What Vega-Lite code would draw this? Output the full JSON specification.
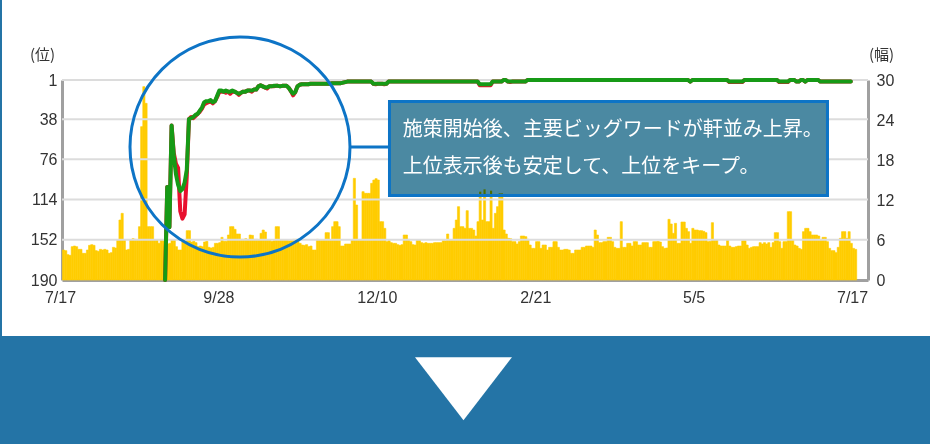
{
"$schema":"https://vega.github.io/schema/vega-lite/v6.json",
"width":806,"height":200,
"autosize":{"type":"none"},
"padding":{"left":62,"top":80,"right":62,"bottom":164},
"background":"#FFFFFF",
"datasets":{
"daily":[
{"date":"2016-07-17","count":4.5},{"date":"2016-07-18","count":4.4},{"date":"2016-07-19","count":3.8},{"date":"2016-07-20","count":3.7},{"date":"2016-07-21","count":5.0},{"date":"2016-07-22","count":5.1},{"date":"2016-07-23","count":5.0},{"date":"2016-07-24","count":4.6},{"date":"2016-07-25","count":4.6},{"date":"2016-07-26","count":4.0},{"date":"2016-07-27","count":4.0},{"date":"2016-07-28","count":4.5},{"date":"2016-07-29","count":5.2},{"date":"2016-07-30","count":5.3},{"date":"2016-07-31","count":5.2},
{"date":"2016-08-01","count":4.4},{"date":"2016-08-02","count":4.3},{"date":"2016-08-03","count":4.6},{"date":"2016-08-04","count":4.5},{"date":"2016-08-05","count":4.6},{"date":"2016-08-06","count":4.5},{"date":"2016-08-07","count":4.0},{"date":"2016-08-08","count":4.1},{"date":"2016-08-09","count":4.9},{"date":"2016-08-10","count":4.8},{"date":"2016-08-11","count":6.0},{"date":"2016-08-12","count":9.0},{"date":"2016-08-13","count":10.0},{"date":"2016-08-14","count":6.0},{"date":"2016-08-15","count":4.5},{"date":"2016-08-16","count":4.6},{"date":"2016-08-17","count":6.0},{"date":"2016-08-18","count":6.2},{"date":"2016-08-19","count":6.1},{"date":"2016-08-20","count":6.0},{"date":"2016-08-21","count":8.0},{"date":"2016-08-22","count":23},{"date":"2016-08-23","count":29},{"date":"2016-08-24","count":26.5},{"date":"2016-08-25","count":8},{"date":"2016-08-26","count":8},{"date":"2016-08-27","count":8},{"date":"2016-08-28","count":6},{"date":"2016-08-29","count":6},{"date":"2016-08-30","count":5.5},{"date":"2016-08-31","count":6},
{"date":"2016-09-01","count":6},{"date":"2016-09-02","count":5.5,"red":190,"green":190},{"date":"2016-09-03","count":5.4,"red":102,"green":102},{"date":"2016-09-04","count":5.5,"red":140,"green":140},{"date":"2016-09-05","count":6,"red":44,"green":44},{"date":"2016-09-06","count":6,"red":70,"green":72},{"date":"2016-09-07","count":5,"red":80,"green":90},{"date":"2016-09-08","count":4.5,"red":84,"green":100},{"date":"2016-09-09","count":4.5,"red":125,"green":106},{"date":"2016-09-10","count":5.7,"red":132,"green":104},{"date":"2016-09-11","count":5.8,"red":128,"green":98},{"date":"2016-09-12","count":7.4,"red":92,"green":86},{"date":"2016-09-13","count":7.4,"red":38,"green":38},{"date":"2016-09-14","count":5.7,"red":36,"green":37},{"date":"2016-09-15","count":5.8,"red":37,"green":36},{"date":"2016-09-16","count":5.6,"red":35,"green":34},{"date":"2016-09-17","count":5.0,"red":33,"green":33},{"date":"2016-09-18","count":5.1,"red":31,"green":30},{"date":"2016-09-19","count":5.0,"red":28,"green":27},{"date":"2016-09-20","count":5.7,"red":24,"green":22},{"date":"2016-09-21","count":5.8,"red":23,"green":21},{"date":"2016-09-22","count":4.9,"red":22,"green":21},{"date":"2016-09-23","count":4.8,"red":21,"green":20},{"date":"2016-09-24","count":4.9,"red":23,"green":22},{"date":"2016-09-25","count":5.5,"red":21,"green":21},{"date":"2016-09-26","count":5.5,"red":17,"green":16},{"date":"2016-09-27","count":5.6,"red":12,"green":11},{"date":"2016-09-28","count":6.4,"red":12,"green":11},{"date":"2016-09-29","count":5.8,"red":12,"green":12},{"date":"2016-09-30","count":5.8,"red":13,"green":11},
{"date":"2016-10-01","count":6.75,"red":12,"green":12},{"date":"2016-10-02","count":8,"red":14,"green":12},{"date":"2016-10-03","count":8,"red":12,"green":11},{"date":"2016-10-04","count":7.6,"red":12,"green":12},{"date":"2016-10-05","count":6.9,"red":13,"green":13},{"date":"2016-10-06","count":6.9,"red":15,"green":14},{"date":"2016-10-07","count":6.1,"red":13,"green":13},{"date":"2016-10-08","count":6.1,"red":12,"green":12},{"date":"2016-10-09","count":6.2,"red":12,"green":12},{"date":"2016-10-10","count":6.0,"red":11,"green":11},{"date":"2016-10-11","count":6.75,"red":11,"green":11},{"date":"2016-10-12","count":6.7,"red":12,"green":11},{"date":"2016-10-13","count":6.1,"red":10,"green":10},{"date":"2016-10-14","count":6.1,"red":10,"green":10},{"date":"2016-10-15","count":6.0,"red":7,"green":7},{"date":"2016-10-16","count":7.0,"red":6,"green":6},{"date":"2016-10-17","count":7.5,"red":7,"green":7},{"date":"2016-10-18","count":7.2,"red":8,"green":8},{"date":"2016-10-19","count":6.0,"red":9,"green":8},{"date":"2016-10-20","count":6.0,"red":7,"green":7},{"date":"2016-10-21","count":5.8,"red":7,"green":7},{"date":"2016-10-22","count":5.9,"red":7,"green":6.5},{"date":"2016-10-23","count":8.0,"red":6.5,"green":6.5},{"date":"2016-10-24","count":8.0,"red":6.5,"green":6.5},{"date":"2016-10-25","count":6.0,"red":7,"green":7},{"date":"2016-10-26","count":6.0,"red":6.5,"green":6.5},{"date":"2016-10-27","count":6.0,"red":6.5,"green":6.5},{"date":"2016-10-28","count":6.0,"red":6.5,"green":6.5},{"date":"2016-10-29","count":5.9,"red":8.5,"green":8.5},{"date":"2016-10-30","count":6.0,"red":11.5,"green":11.5},{"date":"2016-10-31","count":6.1,"red":15.5,"green":14},
{"date":"2016-11-01","count":6.1,"red":12.5,"green":12.5},{"date":"2016-11-02","count":6.1,"red":7,"green":7},{"date":"2016-11-03","count":5.5,"red":5.5,"green":5.5},{"date":"2016-11-04","count":5.25,"red":5,"green":5},{"date":"2016-11-05","count":5.2,"red":5,"green":5},{"date":"2016-11-06","count":5.3,"red":5,"green":5},{"date":"2016-11-07","count":5.0,"red":5,"green":5},{"date":"2016-11-08","count":5.1,"red":4.5,"green":4.5},{"date":"2016-11-09","count":4.5,"red":4.5,"green":4.5},{"date":"2016-11-10","count":4.5,"red":4.5,"green":4.5},{"date":"2016-11-11","count":6.1,"red":4.5,"green":4.5},{"date":"2016-11-12","count":6.0,"red":4.5,"green":4.5},{"date":"2016-11-13","count":6.0,"red":4.5,"green":4.5},{"date":"2016-11-14","count":6.0,"red":4.5,"green":4.5},{"date":"2016-11-15","count":7.1,"red":4.5,"green":4.5},{"date":"2016-11-16","count":7.1,"red":4.5,"green":4.5},{"date":"2016-11-17","count":6.0,"red":4.5,"green":4.5},{"date":"2016-11-18","count":8.0,"red":4,"green":4},{"date":"2016-11-19","count":8.75,"red":4,"green":4},{"date":"2016-11-20","count":8.75,"red":4,"green":4},{"date":"2016-11-21","count":8.0,"red":4,"green":4},{"date":"2016-11-22","count":5.1,"red":4,"green":4},{"date":"2016-11-23","count":5.1,"red":3.5,"green":3.5},{"date":"2016-11-24","count":5.4,"red":3,"green":3},{"date":"2016-11-25","count":5.4,"red":2.5,"green":2.5},{"date":"2016-11-26","count":5.4,"red":2.5,"green":2.5},{"date":"2016-11-27","count":6.0,"red":2.5,"green":2.5},{"date":"2016-11-28","count":15.25,"red":2.5,"green":2.5},{"date":"2016-11-29","count":11.25,"red":2.5,"green":2.5},{"date":"2016-11-30","count":6.0,"red":2.5,"green":2.5},
{"date":"2016-12-01","count":6.0,"red":2.5,"green":2.5},{"date":"2016-12-02","count":13.25,"red":2.5,"green":2.5},{"date":"2016-12-03","count":13.0,"red":2.5,"green":2.5},{"date":"2016-12-04","count":13.0,"red":2.5,"green":2.5},{"date":"2016-12-05","count":13.0,"red":2.5,"green":2.5},{"date":"2016-12-06","count":14.5,"red":2.5,"green":2.5},{"date":"2016-12-07","count":15.0,"red":4.5,"green":4.5},{"date":"2016-12-08","count":15.2,"red":5,"green":4.5},{"date":"2016-12-09","count":15.0,"red":4.5,"green":4.5},{"date":"2016-12-10","count":8.75,"red":4.5,"green":4.5},{"date":"2016-12-11","count":8.75,"red":4.5,"green":4.5},{"date":"2016-12-12","count":7.75,"red":5,"green":4.5},{"date":"2016-12-13","count":5.75,"red":4.5,"green":4.5},{"date":"2016-12-14","count":5.9,"red":2.5,"green":2.5},{"date":"2016-12-15","count":5.6,"red":2.5,"green":2.5},{"date":"2016-12-16","count":5.5,"red":2.5,"green":2.5},{"date":"2016-12-17","count":5.5,"red":2.5,"green":2.5},{"date":"2016-12-18","count":5.3,"red":2.5,"green":2.5},{"date":"2016-12-19","count":5.2,"red":2.5,"green":2.5},{"date":"2016-12-20","count":5.3,"red":2.5,"green":2.5},{"date":"2016-12-21","count":6.75,"red":2.5,"green":2.5},{"date":"2016-12-22","count":6.75,"red":2.5,"green":2.5},{"date":"2016-12-23","count":6.1,"red":2.5,"green":2.5},{"date":"2016-12-24","count":5.75,"red":2.5,"green":2.5},{"date":"2016-12-25","count":5.3,"red":2.5,"green":2.5},{"date":"2016-12-26","count":5.25,"red":2.5,"green":2.5},{"date":"2016-12-27","count":6.0,"red":2.5,"green":2.5},{"date":"2016-12-28","count":6.0,"red":2.5,"green":2.5},{"date":"2016-12-29","count":5.6,"red":2.5,"green":2.5},{"date":"2016-12-30","count":5.5,"red":2.5,"green":2.5},{"date":"2016-12-31","count":5.6,"red":2.5,"green":2.5},
{"date":"2017-01-01","count":5.5,"red":2.5,"green":2.5},{"date":"2017-01-02","count":5.5,"red":2.5,"green":2.5},{"date":"2017-01-03","count":5.5,"red":2.5,"green":2.5},{"date":"2017-01-04","count":5.6,"red":2.5,"green":2.5},{"date":"2017-01-05","count":5.6,"red":2.5,"green":2.5},{"date":"2017-01-06","count":5.6,"red":2.5,"green":2.5},{"date":"2017-01-07","count":5.6,"red":2.5,"green":2.5},{"date":"2017-01-08","count":5.9,"red":2.5,"green":2.5},{"date":"2017-01-09","count":5.9,"red":2.5,"green":2.5},{"date":"2017-01-10","count":6.9,"red":2.5,"green":2.5},{"date":"2017-01-11","count":6.0,"red":2.5,"green":2.5},{"date":"2017-01-12","count":6.0,"red":2.5,"green":2.5},{"date":"2017-01-13","count":7.75,"red":2.5,"green":2.5},{"date":"2017-01-14","count":9.0,"red":2.5,"green":2.5},{"date":"2017-01-15","count":11.0,"red":2.5,"green":2.5},{"date":"2017-01-16","count":8.0,"red":2.5,"green":2.5},{"date":"2017-01-17","count":8.0,"red":2.5,"green":2.5},{"date":"2017-01-18","count":7.75,"red":2.5,"green":2.5},{"date":"2017-01-19","count":10.4,"red":2.5,"green":2.5},{"date":"2017-01-20","count":7.75,"red":2.5,"green":2.5},{"date":"2017-01-21","count":7.75,"red":2.5,"green":2.5},{"date":"2017-01-22","count":7.5,"red":2.5,"green":2.5},{"date":"2017-01-23","count":6.6,"red":2.5,"green":2.5},{"date":"2017-01-24","count":8.75,"red":2.5,"green":2.5},{"date":"2017-01-25","count":13.25,"red":6,"green":5},{"date":"2017-01-26","count":9.0,"red":6,"green":5},{"date":"2017-01-27","count":13.6,"red":6,"green":5},{"date":"2017-01-28","count":8.75,"red":6,"green":5},{"date":"2017-01-29","count":8.75,"red":6,"green":5},{"date":"2017-01-30","count":13.4,"red":6,"green":5},{"date":"2017-01-31","count":7.75,"red":2.5,"green":2.5},
{"date":"2017-02-01","count":10.0,"red":2.5,"green":2.5},{"date":"2017-02-02","count":11.0,"red":2.5,"green":2.5},{"date":"2017-02-03","count":13.0,"red":2.5,"green":2.5},{"date":"2017-02-04","count":13.0,"red":2.5,"green":2.5},{"date":"2017-02-05","count":7.5,"red":1,"green":1},{"date":"2017-02-06","count":6.9,"red":1,"green":1},{"date":"2017-02-07","count":6.25,"red":2.5,"green":2.5},{"date":"2017-02-08","count":6.2,"red":3,"green":2.5},{"date":"2017-02-09","count":5.75,"red":2.5,"green":2.5},{"date":"2017-02-10","count":5.75,"red":2.5,"green":2.5},{"date":"2017-02-11","count":5.4,"red":2.5,"green":2.5},{"date":"2017-02-12","count":5.75,"red":2.5,"green":2.5},{"date":"2017-02-13","count":6.6,"red":2.5,"green":2.5},{"date":"2017-02-14","count":6.6,"red":2.5,"green":2.5},{"date":"2017-02-15","count":6.5,"red":2.5,"green":2.5},{"date":"2017-02-16","count":6.1,"red":1,"green":1},{"date":"2017-02-17","count":5.25,"red":1,"green":1},{"date":"2017-02-18","count":4.75,"red":1,"green":1},{"date":"2017-02-19","count":4.75,"red":1,"green":1},{"date":"2017-02-20","count":5.75,"red":1,"green":1},{"date":"2017-02-21","count":5.75,"red":1,"green":1},{"date":"2017-02-22","count":4.75,"red":1,"green":1},{"date":"2017-02-23","count":5.25,"red":1,"green":1},{"date":"2017-02-24","count":5.25,"red":1,"green":1},{"date":"2017-02-25","count":4.5,"red":1,"green":1},{"date":"2017-02-26","count":4.9,"red":1,"green":1},{"date":"2017-02-27","count":4.9,"red":1,"green":1},{"date":"2017-02-28","count":5.75,"red":1,"green":1},
{"date":"2017-03-01","count":5.75,"red":1,"green":1},{"date":"2017-03-02","count":4.9,"red":1,"green":1},{"date":"2017-03-03","count":4.5,"red":1,"green":1},{"date":"2017-03-04","count":4.5,"red":1,"green":1},{"date":"2017-03-05","count":4.6,"red":1,"green":1},{"date":"2017-03-06","count":4.6,"red":1,"green":1},{"date":"2017-03-07","count":4.5,"red":1,"green":1},{"date":"2017-03-08","count":4.0,"red":1,"green":1},{"date":"2017-03-09","count":4.0,"red":1,"green":1},{"date":"2017-03-10","count":4.5,"red":1,"green":1},{"date":"2017-03-11","count":4.5,"red":1,"green":1},{"date":"2017-03-12","count":4.5,"red":1,"green":1},{"date":"2017-03-13","count":4.9,"red":1,"green":1},{"date":"2017-03-14","count":4.9,"red":1,"green":1},{"date":"2017-03-15","count":5.1,"red":1,"green":1},{"date":"2017-03-16","count":5.1,"red":1,"green":1},{"date":"2017-03-17","count":5.1,"red":1,"green":1},{"date":"2017-03-18","count":4.9,"red":1,"green":1},{"date":"2017-03-19","count":7.5,"red":1,"green":1},{"date":"2017-03-20","count":6.75,"red":1,"green":1},{"date":"2017-03-21","count":5.6,"red":1,"green":1},{"date":"2017-03-22","count":5.6,"red":1,"green":1},{"date":"2017-03-23","count":5.75,"red":1,"green":1},{"date":"2017-03-24","count":5.75,"red":1,"green":1},{"date":"2017-03-25","count":6.4,"red":1,"green":1},{"date":"2017-03-26","count":6.4,"red":1,"green":1},{"date":"2017-03-27","count":5.75,"red":1,"green":1},{"date":"2017-03-28","count":4.9,"red":1,"green":1},{"date":"2017-03-29","count":4.75,"red":1,"green":1},{"date":"2017-03-30","count":4.75,"red":1,"green":1},{"date":"2017-03-31","count":8.75,"red":1,"green":1},
{"date":"2017-04-01","count":4.9,"red":1,"green":1},{"date":"2017-04-02","count":4.9,"red":1,"green":1},{"date":"2017-04-03","count":5.5,"red":1,"green":1},{"date":"2017-04-04","count":5.5,"red":1,"green":1},{"date":"2017-04-05","count":5.1,"red":1,"green":1},{"date":"2017-04-06","count":5.75,"red":1,"green":1},{"date":"2017-04-07","count":5.75,"red":1,"green":1},{"date":"2017-04-08","count":5.25,"red":1,"green":1},{"date":"2017-04-09","count":5.25,"red":1,"green":1},{"date":"2017-04-10","count":5.6,"red":1,"green":1},{"date":"2017-04-11","count":5.6,"red":1,"green":1},{"date":"2017-04-12","count":5.6,"red":1,"green":1},{"date":"2017-04-13","count":4.9,"red":1,"green":1},{"date":"2017-04-14","count":4.9,"red":1,"green":1},{"date":"2017-04-15","count":5.75,"red":1,"green":1},{"date":"2017-04-16","count":5.75,"red":1,"green":1},{"date":"2017-04-17","count":5.8,"red":1,"green":1},{"date":"2017-04-18","count":5.7,"red":1,"green":1},{"date":"2017-04-19","count":5.0,"red":1,"green":1},{"date":"2017-04-20","count":4.75,"red":1,"green":1},{"date":"2017-04-21","count":4.8,"red":1,"green":1},{"date":"2017-04-22","count":9.1,"red":1,"green":1},{"date":"2017-04-23","count":8.4,"red":1,"green":1},{"date":"2017-04-24","count":7.0,"red":1,"green":1},{"date":"2017-04-25","count":8.5,"red":1,"green":1},{"date":"2017-04-26","count":5.5,"red":1,"green":1},{"date":"2017-04-27","count":5.5,"red":1,"green":1},{"date":"2017-04-28","count":8.7,"red":1,"green":1},{"date":"2017-04-29","count":8.7,"red":1,"green":1},{"date":"2017-04-30","count":7.75,"red":1,"green":1},
{"date":"2017-05-01","count":7.25,"red":1,"green":1},{"date":"2017-05-02","count":5.5,"red":2.5,"green":2.5},{"date":"2017-05-03","count":7.75,"red":1,"green":1},{"date":"2017-05-04","count":7.5,"red":1,"green":1},{"date":"2017-05-05","count":7.5,"red":1,"green":1},{"date":"2017-05-06","count":7.4,"red":1,"green":1},{"date":"2017-05-07","count":7.4,"red":1,"green":1},{"date":"2017-05-08","count":7.3,"red":1,"green":1},{"date":"2017-05-09","count":7.1,"red":1,"green":1},{"date":"2017-05-10","count":5.75,"red":1,"green":1},{"date":"2017-05-11","count":5.8,"red":1,"green":1},{"date":"2017-05-12","count":8.6,"red":1,"green":1},{"date":"2017-05-13","count":6.0,"red":1,"green":1},{"date":"2017-05-14","count":6.0,"red":1,"green":1},{"date":"2017-05-15","count":5.25,"red":1,"green":1},{"date":"2017-05-16","count":5.1,"red":1,"green":1},{"date":"2017-05-17","count":5.1,"red":1,"green":1},{"date":"2017-05-18","count":5.1,"red":1,"green":1},{"date":"2017-05-19","count":6.0,"red":1,"green":1},{"date":"2017-05-20","count":5.1,"red":3,"green":2.5},{"date":"2017-05-21","count":4.9,"red":3,"green":2.5},{"date":"2017-05-22","count":4.9,"red":3,"green":2.5},{"date":"2017-05-23","count":5.0,"red":3,"green":2.5},{"date":"2017-05-24","count":5.1,"red":3,"green":2.5},{"date":"2017-05-25","count":5.1,"red":3,"green":2.5},{"date":"2017-05-26","count":5.9,"red":3,"green":2.5},{"date":"2017-05-27","count":5.9,"red":1,"green":1},{"date":"2017-05-28","count":5.25,"red":1,"green":1},{"date":"2017-05-29","count":4.75,"red":1,"green":1},{"date":"2017-05-30","count":4.9,"red":1,"green":1},{"date":"2017-05-31","count":5.0,"red":1,"green":1},
{"date":"2017-06-01","count":5.0,"red":1,"green":1},{"date":"2017-06-02","count":5.0,"red":1,"green":1},{"date":"2017-06-03","count":5.6,"red":1,"green":1},{"date":"2017-06-04","count":5.4,"red":1,"green":1},{"date":"2017-06-05","count":5.6,"red":1,"green":1},{"date":"2017-06-06","count":5.4,"red":1,"green":1},{"date":"2017-06-07","count":5.6,"red":1,"green":1},{"date":"2017-06-08","count":4.9,"red":1,"green":1},{"date":"2017-06-09","count":5.6,"red":1,"green":1},{"date":"2017-06-10","count":7.1,"red":1,"green":1},{"date":"2017-06-11","count":7.1,"red":1,"green":1},{"date":"2017-06-12","count":5.75,"red":3,"green":2.5},{"date":"2017-06-13","count":4.75,"red":3,"green":2.5},{"date":"2017-06-14","count":5.75,"red":3,"green":2.5},{"date":"2017-06-15","count":5.75,"red":3,"green":2.5},{"date":"2017-06-16","count":10.25,"red":3,"green":2.5},{"date":"2017-06-17","count":10.25,"red":1,"green":1},{"date":"2017-06-18","count":6.0,"red":1,"green":1},{"date":"2017-06-19","count":5.25,"red":1,"green":1},{"date":"2017-06-20","count":5.1,"red":2.5,"green":2.5},{"date":"2017-06-21","count":4.75,"red":2.5,"green":2.5},{"date":"2017-06-22","count":4.6,"red":1,"green":1},{"date":"2017-06-23","count":7.25,"red":1,"green":1},{"date":"2017-06-24","count":7.75,"red":2.5,"green":2.5},{"date":"2017-06-25","count":7.75,"red":1,"green":1},{"date":"2017-06-26","count":7.25,"red":1,"green":1},{"date":"2017-06-27","count":6.75,"red":1,"green":1},{"date":"2017-06-28","count":6.75,"red":1,"green":1},{"date":"2017-06-29","count":6.75,"red":1,"green":1},{"date":"2017-06-30","count":6.6,"red":1,"green":1},
{"date":"2017-07-01","count":6.0,"red":2.5,"green":2.5},{"date":"2017-07-02","count":6.4,"red":2.5,"green":2.5},{"date":"2017-07-03","count":6.4,"red":2.5,"green":2.5},{"date":"2017-07-04","count":5.75,"red":2.5,"green":2.5},{"date":"2017-07-05","count":4.75,"red":2.5,"green":2.5},{"date":"2017-07-06","count":4.4,"red":2.5,"green":2.5},{"date":"2017-07-07","count":4.4,"red":2.5,"green":2.5},{"date":"2017-07-08","count":4.1,"red":2.5,"green":2.5},{"date":"2017-07-09","count":4.9,"red":2.5,"green":2.5},{"date":"2017-07-10","count":6.25,"red":2.5,"green":2.5},{"date":"2017-07-11","count":7.25,"red":2.5,"green":2.5},{"date":"2017-07-12","count":7.25,"red":2.5,"green":2.5},{"date":"2017-07-13","count":6.25,"red":2.5,"green":2.5},{"date":"2017-07-14","count":7.25,"red":2.5,"green":2.5},{"date":"2017-07-15","count":5.5,"red":2.5,"green":2.5},{"date":"2017-07-16","count":4.75},{"date":"2017-07-17","count":4.6}
],
"gridRanks":[{"rank":1},{"rank":38},{"rank":76},{"rank":114},{"rank":152}]
},
"data":{"name":"daily"},
"resolve":{"scale":{"y":"independent"}},
"config":{
"view":{"stroke":null},
"bar":{"binSpacing":0},
"axis":{"labelFont":"Liberation Sans","labelFontSize":16,"labelColor":"#333333","titleFont":"Noto Sans CJK JP","titleFontSize":15,"titleFontWeight":"normal","titleColor":"#333333","domainColor":"#A0A0A0","domainWidth":3,"ticks":false,"tickSize":0,"grid":false,"zindex":1},
"axisX":{"labelPadding":9,"labelOffset":-2,"labelFlush":false,"labelOverlap":false}
},
"layer":[
{"mark":{"type":"bar","color":"#FFCC00","stroke":"#FFCC00","strokeWidth":0.6,"binSpacing":0},
 "encoding":{
  "x":{"field":"date","type":"temporal","timeUnit":"utcyearmonthdate","title":null,
   "scale":{"type":"utc","domain":[{"year":2016,"month":7,"date":17,"utc":true},{"year":2017,"month":7,"date":23,"hours":10,"minutes":19,"utc":true}]},
   "axis":{"labelExpr":"utcFormat(datum.value, '%-m/%-d')","values":[1468713600000,1475020800000,1481328000000,1487635200000,1493942400000,1500249600000]}},
  "y":{"field":"count","type":"quantitative","title":"(幅)",
   "scale":{"domain":[0,30],"nice":false,"zero":false},
   "axis":{"orient":"right","values":[0,6,12,18,24,30],"labelPadding":8,"titleAngle":0,"titleX":13,"titleY":-26,"titleAlign":"center","titleBaseline":"middle"}}
 }},
{"data":{"name":"gridRanks"},
 "mark":{"type":"rule","color":"#DCDCDC","strokeWidth":2},
 "encoding":{
  "y":{"field":"rank","type":"quantitative","title":"(位)",
   "scale":{"domain":[1,190],"reverse":true,"nice":false,"zero":false},
   "axis":{"orient":"left","values":[1,38,76,114,152,190],"labelPadding":5,"titleAngle":0,"titleX":-20,"titleY":-26,"titleAlign":"center","titleBaseline":"middle"}}
 }},
{"data":{"values":[{}]},
 "mark":{"type":"rect","fill":"#4B89A2","stroke":"#0D74C6","strokeWidth":3},
 "encoding":{
  "x":{"datum":{"year":2016,"month":12,"date":14,"hours":22,"utc":true},"type":"temporal","title":null,
   "axis":{"labelExpr":"utcFormat(datum.value, '%-m/%-d')","values":[1468713600000,1475020800000,1481328000000,1487635200000,1493942400000,1500249600000]}},
  "x2":{"datum":{"year":2017,"month":7,"date":4,"hours":18,"minutes":14,"utc":true}},
  "y":{"datum":21.3,"type":"quantitative","axis":null,"scale":{"domain":[1,190],"reverse":true,"nice":false,"zero":false}},
  "y2":{"datum":110.1}
 }},
{"transform":[{"filter":"datum.count > 12.9 && utcyear(datum.date) >= 2017"}],
 "mark":{"type":"bar","color":"#FFCC00","blend":"multiply","binSpacing":0},
 "encoding":{
  "x":{"field":"date","type":"temporal","timeUnit":"utcyearmonthdate","title":null,
   "axis":{"labelExpr":"utcFormat(datum.value, '%-m/%-d')","values":[1468713600000,1475020800000,1481328000000,1487635200000,1493942400000,1500249600000]}},
  "y":{"field":"count","type":"quantitative","axis":null,"scale":{"domain":[0,30],"nice":false,"zero":false}},
  "y2":{"datum":12.9}
 }},
{"mark":{"type":"line","color":"#E8102E","strokeWidth":4,"strokeJoin":"round","strokeCap":"round"},
 "encoding":{
  "x":{"field":"date","type":"temporal","timeUnit":"utcyearmonthdate","bandPosition":0.5,"title":null,
   "axis":{"labelExpr":"utcFormat(datum.value, '%-m/%-d')","values":[1468713600000,1475020800000,1481328000000,1487635200000,1493942400000,1500249600000]}},
  "y":{"field":"red","type":"quantitative","axis":null,"scale":{"domain":[1,190],"reverse":true,"nice":false,"zero":false}}
 }},
{"mark":{"type":"line","color":"#169A16","strokeWidth":4,"strokeJoin":"round","strokeCap":"round"},
 "encoding":{
  "x":{"field":"date","type":"temporal","timeUnit":"utcyearmonthdate","bandPosition":0.5,"title":null,
   "axis":{"labelExpr":"utcFormat(datum.value, '%-m/%-d')","values":[1468713600000,1475020800000,1481328000000,1487635200000,1493942400000,1500249600000]}},
  "y":{"field":"green","type":"quantitative","axis":null,"scale":{"domain":[1,190],"reverse":true,"nice":false,"zero":false}}
 }},
{"data":{"values":[{}]},
 "mark":{"type":"text","font":"Noto Sans CJK JP","fontSize":20,"color":"#FFFFFF","align":"left","baseline":"middle","text":"施策開始後、主要ビッグワードが軒並み上昇。"},
 "encoding":{
  "x":{"datum":{"year":2016,"month":12,"date":21,"hours":2,"utc":true},"type":"temporal","title":null,
   "axis":{"labelExpr":"utcFormat(datum.value, '%-m/%-d')","values":[1468713600000,1475020800000,1481328000000,1487635200000,1493942400000,1500249600000]}},
  "y":{"datum":48.3,"type":"quantitative","axis":null,"scale":{"domain":[1,190],"reverse":true,"nice":false,"zero":false}}
 }},
{"data":{"values":[{}]},
 "mark":{"type":"text","font":"Noto Sans CJK JP","fontSize":20,"color":"#FFFFFF","align":"left","baseline":"middle","text":"上位表示後も安定して、上位をキープ。"},
 "encoding":{
  "x":{"datum":{"year":2016,"month":12,"date":21,"hours":2,"utc":true},"type":"temporal","title":null,
   "axis":{"labelExpr":"utcFormat(datum.value, '%-m/%-d')","values":[1468713600000,1475020800000,1481328000000,1487635200000,1493942400000,1500249600000]}},
  "y":{"datum":83.2,"type":"quantitative","axis":null,"scale":{"domain":[1,190],"reverse":true,"nice":false,"zero":false}}
 }},
{"data":{"values":[{}]},
 "mark":{"type":"rule","color":"#0D74C6","strokeWidth":3},
 "encoding":{
  "x":{"datum":{"year":2016,"month":11,"date":26,"hours":16,"minutes":48,"utc":true},"type":"temporal","title":null,
   "axis":{"labelExpr":"utcFormat(datum.value, '%-m/%-d')","values":[1468713600000,1475020800000,1481328000000,1487635200000,1493942400000,1500249600000]}},
  "x2":{"datum":{"year":2016,"month":12,"date":14,"hours":5,"minutes":30,"utc":true}},
  "y":{"datum":64.3,"type":"quantitative","axis":null,"scale":{"domain":[1,190],"reverse":true,"nice":false,"zero":false}}
 }},
{"data":{"values":[{}]},
 "mark":{"type":"point","shape":"circle","filled":false,"stroke":"#0D74C6","strokeWidth":3,"size":48400,"opacity":1},
 "encoding":{
  "x":{"datum":{"year":2016,"month":10,"date":7,"hours":0,"minutes":40,"utc":true},"type":"temporal","title":null,
   "axis":{"labelExpr":"utcFormat(datum.value, '%-m/%-d')","values":[1468713600000,1475020800000,1481328000000,1487635200000,1493942400000,1500249600000]}},
  "y":{"datum":64.3,"type":"quantitative","axis":null,"scale":{"domain":[1,190],"reverse":true,"nice":false,"zero":false}}
 }},
{"data":{"values":[{}]},
 "mark":{"type":"rect","fill":"#2474A6"},
 "encoding":{
  "x":{"datum":{"year":2016,"month":5,"date":1,"utc":true},"type":"temporal","title":null,
   "axis":{"labelExpr":"utcFormat(datum.value, '%-m/%-d')","values":[1468713600000,1475020800000,1481328000000,1487635200000,1493942400000,1500249600000]}},
  "x2":{"datum":{"year":2017,"month":10,"date":1,"utc":true}},
  "y":{"datum":-8.4,"type":"quantitative","axis":null,"scale":{"domain":[0,30],"nice":false,"zero":false}},
  "y2":{"datum":-40}
 }},
{"data":{"values":[{}]},
 "mark":{"type":"point","shape":"M-1,-0.65L1,-0.65L0,0.65Z","filled":true,"fill":"#FFFFFF","size":9409,"opacity":1,"strokeWidth":0},
 "encoding":{
  "x":{"datum":{"year":2017,"month":1,"date":18,"hours":0,"minutes":30,"utc":true},"type":"temporal","title":null,
   "axis":{"labelExpr":"utcFormat(datum.value, '%-m/%-d')","values":[1468713600000,1475020800000,1481328000000,1487635200000,1493942400000,1500249600000]}},
  "y":{"datum":-16.3,"type":"quantitative","axis":null,"scale":{"domain":[0,30],"nice":false,"zero":false}}
 }},
{"data":{"values":[{}]},
 "mark":{"type":"rule","color":"#2474A6","strokeWidth":2},
 "encoding":{
  "x":{"datum":{"year":2016,"month":6,"date":18,"hours":21,"minutes":20,"utc":true},"type":"temporal","title":null,
   "axis":{"labelExpr":"utcFormat(datum.value, '%-m/%-d')","values":[1468713600000,1475020800000,1481328000000,1487635200000,1493942400000,1500249600000]}},
  "y":{"datum":60,"type":"quantitative","axis":null,"scale":{"domain":[0,30],"nice":false,"zero":false}},
  "y2":{"datum":-8.4}
 }}
]
}
